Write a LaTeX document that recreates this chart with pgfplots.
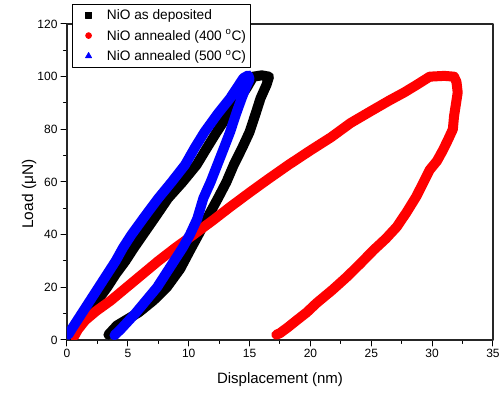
\documentclass[border=0pt]{standalone}
\usepackage{fontspec}
\setmainfont{Liberation Sans}
\usepackage{pgfplots}
\pgfplotsset{compat=1.18}
\begin{document}
\begin{tikzpicture}
\useasboundingbox (-67pt,-56pt) rectangle (434pt,340pt);
\begin{axis}[
  scale only axis, width=426pt, height=316pt,
  at={(0pt,0pt)}, anchor=south west,
  xmin=0, xmax=35, ymin=0, ymax=120,
  xtick={0,5,...,35}, ytick={0,20,...,120},
  minor x tick num=1, minor y tick num=1,
  tick align=outside, xtick pos=bottom, ytick pos=left,
  major tick length=6pt, minor tick length=3.5pt,
  every tick/.style={black, line width=1pt},
  axis line style={line width=1.2pt, black!85},
  /pgf/number format/assume math mode=true,
  tick label style={font=\fontsize{12}{14}\selectfont},
  xlabel={Displacement (nm)}, ylabel={Load (μN)},
  label style={font=\fontsize{15}{18}\selectfont},
  ylabel style={font=\fontsize{15.5}{18}\selectfont},
  xlabel style={at={(axis description cs:0.5,-0.1266)}, anchor=center},
  ylabel style={at={(axis description cs:-0.0892,0.462)}, anchor=center},
  legend style={at={(axis description cs:0.0117,1.062)}, anchor=north west,
    draw=black, line width=0.6pt, fill=white,
    font=\fontsize{13.7}{16}\selectfont, legend cell align=left,
    row sep=4.5pt, inner xsep=2pt, inner ysep=3pt},
  legend image code/.code={\path (0pt,0pt) (30pt,0pt);
    \draw[mark repeat=1,mark phase=1,#1] plot coordinates {(14pt,0pt)};},
  line cap=round, line join=round,
]
\addlegendimage{only marks, mark=square*, mark size=3pt, black}
\addlegendentry{NiO as deposited}
\addlegendimage{only marks, mark=*, mark size=3pt, red}
\addlegendentry{NiO annealed (400 \textsuperscript{o}C)}
\addlegendimage{only marks, mark=triangle*, mark size=3.6pt, blue}
\addlegendentry{NiO annealed (500 \textsuperscript{o}C)}

% NiO as deposited
\addplot[black, line width=10pt, forget plot] coordinates {
(0.3,2)(0.9,5)(1.7,10)(2.5,15)(3.3,20)(4.0,25)(4.8,30)(5.5,35)(6.25,40)
(7.3,47)(8.3,53.8)(9.5,60)(10.65,66.5)(11.5,73)(12.3,79)(13.3,86)(14.2,91.8)
(14.8,96)(15.3,100)(16.0,100.5)(16.6,100)(16.4,97)(15.9,91.8)(15.5,86)(15.0,79)
(14.4,73)(13.7,66.5)(13.1,60)(12.4,53.8)(11.6,47)(10.8,40)(10.1,34)(9.3,27)
(8.2,20)(7.1,15)(5.9,10.5)(5.0,8)(4.1,5.5)(3.6,3)(3.4,2)
};
% NiO annealed 400
\addplot[red, line width=10pt, forget plot] coordinates {
(0.6,1.5)(0.9,4)(1.5,7.5)(2.4,11)(3.6,15)(4.9,20)(6.2,25)(7.5,30)(8.9,35)(10.4,40)
(12,45.5)(13.4,50.5)(15,56)(16.5,61)(18.2,66.5)(20,72)(21.7,77)(23.3,82.4)
(25,87)(26.5,91)(27.7,94)(28.7,96.8)(29.8,100)(31,100.3)(31.8,100)(32.0,98)
(32.1,94)(32.0,91)(31.8,85)(31.7,80)(31.3,76)(30.9,72.2)(30.4,68)(29.8,64.6)
(29.3,60)(28.7,54.5)(27.9,48.5)(27.1,43)(26.2,38.5)(25.2,34.2)(24.1,29)(23.0,24)
(21.8,19)(20.5,14)(19.7,10.5)(18.9,7.6)(18.2,5)(17.5,2.6)(17.2,2)
};
% NiO annealed 500
\addplot[blue, line width=10pt, forget plot] coordinates {
(0.1,2)(0.5,5)(1.2,10)(1.9,15)(2.6,20)(3.3,25)(4.0,30)(4.6,35)(5.3,40)
(6.4,47)(7.5,53.8)(8.6,60)(9.7,66.5)(10.5,73)(11.3,79)(12.4,86)(13.4,91.8)
(14.0,96)(14.5,99.5)(14.9,100.5)(15.0,99)(14.7,96)(14.35,91.8)(13.9,86)(13.4,79)
(12.9,73)(12.35,66.5)(11.8,60)(11.2,53.8)(10.7,46)(10.1,40)(9.5,35)(8.8,30)
(8.1,25)(7.4,20)(6.5,15)(5.6,10)(5.0,7)(4.4,4)(3.9,1.8)
};
\end{axis}
\end{tikzpicture}
\end{document}
